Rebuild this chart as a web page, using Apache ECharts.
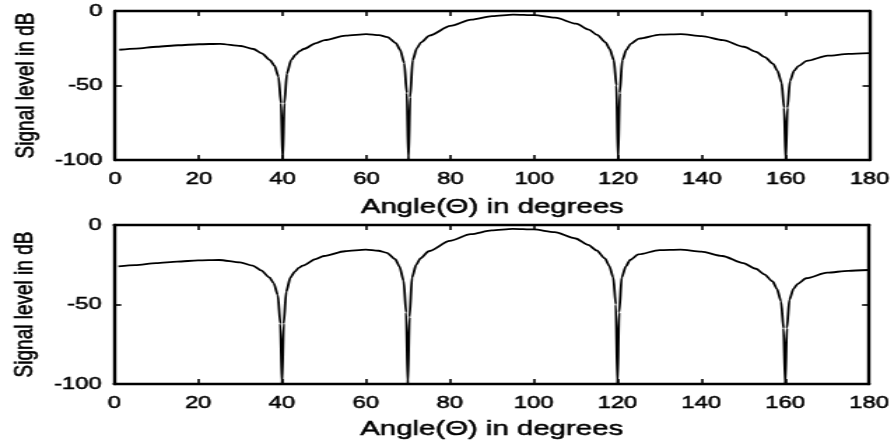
<!DOCTYPE html>
<html>
<head>
<meta charset="utf-8">
<script src="https://cdn.jsdelivr.net/npm/echarts@6/dist/echarts.min.js"></script>
<style>
  html, body { margin: 0; padding: 0; background: #fff; overflow: hidden; }
  #wrap { width: 894px; height: 446px; overflow: hidden; position: relative; }
  /* the plot is laid out on a narrower canvas and widened, giving the wide lettering of the figure */
  #chart { width: 639px; height: 446px; transform: scaleX(1.399); transform-origin: 0 0; }
</style>
</head>
<body>
<div id="wrap"><div id="chart"></div></div>
<script>
// Beam pattern: angle of arrival (degrees) and signal level (dB)
const angles = [
  1, 5, 10, 15, 20, 25, 30, 33, 35, 37, 38, 39, 39.6, 40, 40.4, 41, 42, 43, 44, 45, 48, 50,
  55, 60, 63, 65, 67, 68, 69, 69.6, 70, 70.4, 71, 72, 73, 75, 80, 85, 90, 95, 100, 105,
  110, 113, 115, 117, 118, 119, 119.6, 120, 120.4, 121, 122, 123, 125, 130, 135, 140,
  145, 150, 153, 155, 157, 158, 159, 159.6, 160, 160.4, 161, 162, 163, 165, 170, 175, 180
];
const levelsUpper = [
  -26, -25.2, -24, -23, -22.3, -22, -23.5, -25.5, -28.5, -33, -36.5, -44, -62, -100, -62, -42, -33, -29.5, -27, -25.5, -21.5, -19.5,
  -16.5, -15.5, -16.2, -17.5, -21.5, -26, -35, -55, -100, -58, -33, -25, -21, -16.5, -10, -5.8, -3.4, -2.4, -2.8, -4.5,
  -8.5, -12.5, -16, -21, -25.5, -33, -50, -100, -55, -33, -26, -22, -18.5, -15.8, -15.5, -16.8,
  -19.5, -24, -27.5, -31, -35.5, -40, -48, -65, -100, -65, -47, -40, -37, -33.5, -30, -28.8, -28.3
];
const levelsLower = [
  -26, -25.2, -24, -23, -22.3, -22, -23.5, -25.5, -28.5, -33, -36.5, -44, -62, -100, -62, -42, -33, -29.5, -27, -25.5, -21.5, -19.5,
  -16.5, -15.5, -16.2, -17.5, -21.5, -26, -35, -55, -100, -58, -33, -25, -21, -16.5, -10, -5.8, -3.4, -2.4, -2.8, -4.5,
  -8.5, -12.5, -16, -21, -25.5, -33, -50, -100, -55, -33, -26, -22, -18.5, -15.8, -15.5, -16.8,
  -19.5, -24, -27.5, -31, -35.5, -40, -48, -65, -100, -65, -47, -40, -37, -33.5, -30, -28.8, -28.3
];
const angleRange = { min: 0, max: 180, step: 20 };
const levelRange = { min: -100, max: 0, step: 50 };
const xTitle = 'Angle(\u0398) in degrees';
const yTitle = 'Signal level in dB';

const FONT = 'Liberation Sans, Arial, Helvetica, sans-serif';
const ink = { color: '#000', fontFamily: FONT, textBorderColor: '#000', textBorderWidth: 0.5 };
const frame = { show: true, onZero: false, lineStyle: { color: '#000', width: 2.4 } };
const tickIn = { show: true, inside: true, length: 5, lineStyle: { color: '#000', width: 1.6 } };
const labelStyle = Object.assign({ fontSize: 17 }, ink);

const grids = [
  { left: 82.2, right: 17.1, top: 11, height: 149 },
  { left: 80.8, right: 17.8, top: 225, height: 159 }
];

const xAxes = [], yAxes = [], series = [];
[levelsUpper, levelsLower].forEach((levels, i) => {
  xAxes.push({
    type: 'value', gridIndex: i, position: 'bottom',
    min: angleRange.min, max: angleRange.max, interval: angleRange.step,
    axisLine: frame, axisTick: tickIn, splitLine: { show: false },
    axisLabel: Object.assign({ margin: 11 }, labelStyle),
    name: xTitle, nameLocation: 'middle', nameGap: i === 0 ? 37 : 35,
    nameTextStyle: Object.assign({ fontSize: 21 }, ink)
  });
  xAxes.push({
    type: 'value', gridIndex: i, position: 'top',
    min: angleRange.min, max: angleRange.max, interval: angleRange.step,
    axisLine: frame, axisTick: tickIn, splitLine: { show: false },
    axisLabel: { show: false }
  });
  yAxes.push({
    type: 'value', gridIndex: i, position: 'left',
    min: levelRange.min, max: levelRange.max, interval: levelRange.step,
    axisLine: frame, axisTick: tickIn, splitLine: { show: false },
    axisLabel: Object.assign({ margin: 9 }, labelStyle),
    name: yTitle, nameLocation: 'middle', nameGap: 53, nameRotate: 90,
    nameTextStyle: Object.assign({ fontSize: 19 }, ink)
  });
  yAxes.push({
    type: 'value', gridIndex: i, position: 'right',
    min: levelRange.min, max: levelRange.max, interval: levelRange.step,
    axisLine: frame, axisTick: tickIn, splitLine: { show: false },
    axisLabel: { show: false }
  });
  series.push({
    type: 'line', xAxisIndex: i * 2, yAxisIndex: i * 2,
    data: angles.map((a, k) => [a, levels[k]]),
    showSymbol: false, smooth: 0.25, smoothMonotone: 'x',
    lineStyle: { color: '#000', width: 1.8 },
    clip: true, animation: false
  });
});

const chart = echarts.init(document.getElementById('chart'), null, { renderer: 'canvas' });
chart.setOption({
  backgroundColor: '#fff',
  animation: false,
  grid: grids,
  xAxis: xAxes,
  yAxis: yAxes,
  series: series
});
</script>
</body>
</html>
